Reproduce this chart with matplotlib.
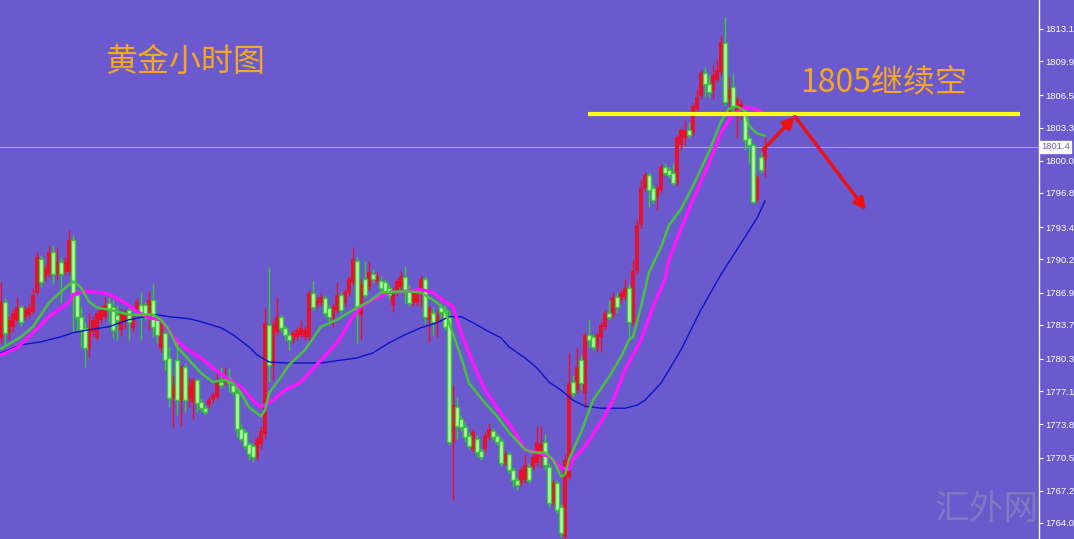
import numpy as np
import matplotlib
matplotlib.use("Agg")
import matplotlib.pyplot as plt

plt.rcParams["font.family"] = ["Noto Sans CJK SC", "DejaVu Sans"]

# hourly gold candles (oldest -> newest)
opens = [
    1782.4, 1786.0, 1782.9, 1783.5, 1784.2, 1785.5, 1784.5, 1784.7, 1785.0, 1786.9,
    1790.2, 1788.4, 1788.7, 1790.9, 1788.7, 1789.9, 1788.9, 1788.9, 1792.1, 1786.7,
    1784.5, 1783.4, 1781.4, 1783.0, 1782.4, 1784.2, 1784.5, 1785.9, 1785.5, 1784.7,
    1783.2, 1784.0, 1785.2, 1783.4, 1785.0, 1785.7, 1785.7, 1784.9, 1786.2, 1784.2,
    1781.4, 1782.9, 1780.4, 1776.4, 1780.2, 1776.2, 1779.5, 1776.4, 1776.0, 1778.2,
    1776.0, 1775.4, 1775.7, 1776.2, 1776.5, 1778.0, 1778.0, 1778.4, 1777.7, 1776.9,
    1773.3, 1773.0, 1771.8, 1771.6, 1770.6, 1771.8, 1772.8, 1783.7, 1779.7, 1783.0,
    1784.5, 1783.4, 1782.7, 1782.2, 1782.5, 1782.7, 1782.5, 1782.5, 1786.9, 1785.7,
    1785.9, 1786.4, 1785.4, 1784.4, 1785.2, 1786.7, 1785.9, 1786.9, 1787.9, 1790.0,
    1784.7, 1788.2, 1787.5, 1788.7, 1788.0, 1788.0, 1787.9, 1787.4, 1785.7, 1786.9,
    1787.5, 1788.4, 1787.2, 1785.9, 1785.9, 1787.2, 1788.2, 1784.2, 1784.9, 1784.0,
    1785.5, 1785.2, 1784.5, 1772.0, 1775.5, 1774.3, 1773.5, 1772.6, 1771.3, 1772.3,
    1771.1, 1771.3, 1772.5, 1773.1, 1772.6, 1772.1, 1770.0, 1770.8, 1769.3, 1768.3,
    1768.0, 1768.3, 1769.6, 1769.6, 1770.0, 1770.6, 1772.0, 1769.6, 1766.0, 1768.0,
    1765.6, 1762.6, 1768.6, 1778.0, 1777.2, 1780.2, 1776.9, 1782.7, 1782.5, 1781.5,
    1782.5, 1783.5, 1784.9, 1784.7, 1786.5, 1786.2, 1786.5, 1787.4, 1784.0, 1789.0,
    1793.6, 1797.3, 1798.6, 1797.3, 1796.4, 1797.1, 1799.4, 1799.1, 1798.8, 1797.8,
    1801.6, 1802.3, 1803.1, 1802.8, 1805.1, 1806.4, 1808.7, 1807.6, 1806.9, 1808.0,
    1808.8, 1811.7, 1806.1, 1807.3, 1804.9, 1804.4, 1804.8, 1802.3, 1801.6, 1796.1,
    1800.4, 1800.1,
]
closes = [
    1786.0, 1782.9, 1784.2, 1784.9, 1785.5, 1784.0, 1785.2, 1785.4, 1786.7, 1790.4,
    1787.9, 1789.2, 1790.9, 1788.7, 1789.9, 1788.7, 1789.9, 1792.1, 1786.7, 1784.5,
    1783.2, 1781.4, 1783.2, 1784.2, 1784.9, 1785.2, 1785.7, 1785.2, 1783.2, 1784.2,
    1784.9, 1784.7, 1784.0, 1784.4, 1786.0, 1784.9, 1784.5, 1786.2, 1783.5, 1782.7,
    1783.9, 1780.2, 1776.4, 1777.7, 1776.2, 1779.5, 1776.2, 1777.7, 1778.2, 1775.9,
    1775.4, 1775.0, 1776.2, 1776.7, 1778.0, 1777.7, 1778.5, 1777.9, 1777.0, 1773.3,
    1772.3, 1771.6, 1770.8, 1770.6, 1772.3, 1773.1, 1783.9, 1779.7, 1783.7, 1784.5,
    1783.4, 1782.7, 1782.2, 1782.9, 1783.2, 1783.4, 1783.2, 1786.9, 1785.5, 1786.2,
    1786.5, 1784.9, 1784.5, 1785.5, 1786.7, 1785.2, 1787.0, 1788.2, 1790.2, 1785.2,
    1787.7, 1786.7, 1788.9, 1788.2, 1788.5, 1787.4, 1786.9, 1786.7, 1786.9, 1788.0,
    1788.5, 1787.2, 1785.9, 1786.9, 1787.0, 1788.2, 1784.5, 1785.4, 1784.0, 1784.7,
    1785.0, 1783.5, 1772.0, 1775.7, 1773.6, 1773.5, 1772.5, 1771.6, 1773.0, 1771.0,
    1770.6, 1772.6, 1773.3, 1772.5, 1772.0, 1770.0, 1770.8, 1769.3, 1768.3, 1767.8,
    1769.3, 1769.8, 1768.3, 1770.6, 1772.0, 1771.8, 1769.8, 1766.0, 1768.0, 1765.3,
    1763.0, 1770.3, 1777.9, 1776.9, 1779.5, 1777.9, 1782.7, 1782.2, 1781.5, 1782.7,
    1783.7, 1784.9, 1784.5, 1786.5, 1785.5, 1786.9, 1787.4, 1784.0, 1789.0, 1793.6,
    1797.3, 1798.6, 1797.1, 1796.1, 1797.3, 1799.4, 1798.8, 1798.6, 1797.8, 1802.4,
    1803.1, 1803.1, 1802.6, 1805.4, 1806.3, 1808.7, 1807.6, 1806.8, 1808.5, 1809.0,
    1811.8, 1805.8, 1807.1, 1805.4, 1806.1, 1805.6, 1802.1, 1801.6, 1795.9, 1798.4,
    1799.1, 1801.4,
]
highs = [
    1787.9, 1786.4, 1784.6, 1785.4, 1786.5, 1785.7, 1785.6, 1785.9, 1787.4, 1790.9,
    1790.6, 1789.7, 1791.5, 1791.6, 1791.4, 1790.4, 1790.4, 1793.1, 1792.6, 1787.2,
    1785.5, 1784.0, 1784.9, 1784.6, 1785.2, 1785.7, 1786.5, 1786.5, 1786.2, 1785.7,
    1785.3, 1785.2, 1785.6, 1784.8, 1786.4, 1787.0, 1786.0, 1787.0, 1787.7, 1784.5,
    1784.2, 1783.2, 1781.5, 1778.7, 1782.4, 1779.7, 1779.9, 1778.5, 1778.5, 1778.4,
    1776.4, 1775.7, 1776.5, 1777.0, 1778.9, 1779.5, 1779.5, 1779.4, 1778.2, 1777.4,
    1773.8, 1773.3, 1772.0, 1771.9, 1772.6, 1773.6, 1785.5, 1789.4, 1784.2, 1786.5,
    1784.8, 1783.7, 1783.0, 1783.2, 1783.5, 1784.2, 1783.6, 1787.2, 1788.0, 1786.6,
    1786.9, 1786.7, 1785.7, 1785.8, 1787.9, 1787.0, 1787.3, 1788.5, 1791.4, 1790.4,
    1788.2, 1790.0, 1790.0, 1789.2, 1788.9, 1788.5, 1788.2, 1787.7, 1787.5, 1788.3,
    1789.0, 1789.5, 1787.6, 1787.2, 1787.4, 1788.6, 1788.5, 1785.7, 1785.5, 1785.2,
    1785.9, 1785.7, 1785.2, 1777.7, 1776.5, 1774.7, 1774.0, 1773.0, 1773.3, 1772.7,
    1771.4, 1773.0, 1773.8, 1773.4, 1772.9, 1772.4, 1771.1, 1771.1, 1769.6, 1768.6,
    1769.7, 1770.8, 1770.0, 1771.0, 1773.6, 1773.6, 1772.8, 1770.0, 1768.3, 1768.3,
    1765.9, 1770.8, 1780.9, 1778.7, 1781.5, 1780.7, 1783.0, 1784.2, 1782.8, 1783.0,
    1784.0, 1785.2, 1786.2, 1787.0, 1787.0, 1787.2, 1788.2, 1787.7, 1790.2, 1794.1,
    1798.1, 1798.9, 1798.9, 1797.6, 1797.6, 1799.7, 1799.8, 1799.4, 1799.8, 1802.6,
    1803.4, 1804.1, 1803.9, 1805.7, 1807.1, 1809.0, 1809.3, 1808.5, 1809.5, 1810.0,
    1812.5, 1814.3, 1808.3, 1808.7, 1806.4, 1806.1, 1805.1, 1802.6, 1801.8, 1798.6,
    1800.9, 1802.4,
]
lows = [
    1781.9, 1781.7, 1782.2, 1783.0, 1783.9, 1783.6, 1784.2, 1784.4, 1784.8, 1786.6,
    1787.5, 1788.0, 1788.4, 1787.7, 1788.2, 1785.9, 1788.6, 1788.6, 1782.9, 1783.2,
    1781.5, 1779.5, 1780.5, 1782.6, 1782.2, 1783.9, 1784.2, 1784.0, 1782.4, 1782.2,
    1782.6, 1783.4, 1782.2, 1783.0, 1784.7, 1782.2, 1784.2, 1783.2, 1782.5, 1781.9,
    1781.0, 1779.2, 1775.5, 1773.5, 1774.7, 1773.6, 1775.0, 1775.5, 1774.3, 1775.0,
    1775.0, 1774.7, 1775.4, 1775.9, 1776.2, 1777.4, 1777.7, 1777.0, 1776.7, 1772.5,
    1772.1, 1771.3, 1770.3, 1770.1, 1770.3, 1771.3, 1772.3, 1778.0, 1778.2, 1782.7,
    1783.0, 1782.2, 1781.2, 1781.9, 1782.2, 1782.4, 1782.2, 1782.2, 1785.2, 1785.4,
    1785.6, 1784.6, 1784.0, 1783.5, 1784.9, 1784.9, 1785.6, 1786.6, 1787.6, 1781.9,
    1782.2, 1786.4, 1787.2, 1787.8, 1787.7, 1787.0, 1786.6, 1786.3, 1785.0, 1786.6,
    1787.2, 1785.9, 1785.6, 1785.6, 1785.6, 1785.5, 1783.9, 1782.0, 1782.7, 1782.5,
    1784.4, 1783.2, 1771.7, 1766.3, 1772.3, 1773.1, 1772.0, 1771.3, 1771.0, 1770.6,
    1770.3, 1771.0, 1772.2, 1772.2, 1771.7, 1769.7, 1769.7, 1769.0, 1767.6, 1767.3,
    1767.7, 1768.0, 1768.0, 1769.3, 1769.7, 1769.5, 1769.3, 1765.6, 1765.7, 1765.0,
    1762.6, 1762.3, 1768.3, 1776.5, 1776.9, 1777.2, 1775.5, 1781.5, 1781.2, 1781.0,
    1781.0, 1783.2, 1784.2, 1784.4, 1784.9, 1785.9, 1786.2, 1782.5, 1783.7, 1788.7,
    1793.3, 1797.0, 1795.4, 1795.8, 1795.1, 1796.8, 1798.6, 1798.3, 1797.6, 1797.5,
    1801.1, 1801.6, 1802.3, 1802.5, 1804.8, 1806.1, 1806.3, 1806.3, 1806.1, 1807.8,
    1808.5, 1805.4, 1804.8, 1804.8, 1802.3, 1804.1, 1801.1, 1799.8, 1795.8, 1795.9,
    1798.8, 1798.4,
]

# moving averages (bar index, price)
fast_ma_idx = [0, 5, 8, 12, 15, 18, 20, 22, 24, 27, 32, 38, 40, 42, 44, 47, 50, 53, 56, 58,
               60, 62, 65, 66, 67, 70, 72, 76, 80, 84, 89, 92, 95, 99, 102, 105, 107, 109, 111, 112,
               115, 117, 121, 124, 127, 131, 133, 136, 138, 140, 141, 142, 145, 148, 152, 155, 157, 158, 160, 162,
               165, 167, 170, 173, 177, 180, 182, 184, 186, 187, 189, 191]
fast_ma = [1781.3, 1782.5, 1783.5, 1785.9, 1787.0, 1788.0, 1787.4, 1786.0, 1785.4, 1785.2,
           1784.7, 1784.7, 1784.2, 1783.2, 1781.5, 1780.2, 1778.9, 1778.0, 1778.2, 1777.9,
           1776.9, 1775.5, 1774.6, 1775.2, 1776.9, 1778.5, 1779.7, 1781.2, 1783.5, 1784.2,
           1785.4, 1786.0, 1786.9, 1787.0, 1787.0, 1786.9, 1786.4, 1785.9, 1785.2, 1783.9,
           1780.5, 1777.9, 1775.9, 1774.6, 1773.0, 1771.3, 1771.0, 1771.0, 1770.3, 1768.6,
           1768.8, 1770.3, 1773.0, 1776.2, 1778.5, 1780.5, 1782.2, 1782.5, 1785.5, 1788.9,
           1791.4, 1793.6, 1795.2, 1797.5, 1800.9, 1803.9, 1805.2, 1805.4, 1804.9, 1803.5,
           1802.7, 1802.5]

mid_ma_idx = [0, 4, 8, 12, 17, 18, 21, 25, 27, 31, 34, 37, 40, 43, 46, 50, 53, 56, 60, 63,
              65, 68, 71, 75, 80, 84, 88, 90, 93, 97, 101, 105, 108, 111, 113, 115, 118, 121, 125, 128,
              131, 134, 137, 140, 142, 143, 146, 150, 153, 156, 160, 163, 166, 167, 172, 177, 180, 183, 186, 188,
              190]
mid_ma = [1780.7, 1781.4, 1782.9, 1784.5, 1785.9, 1786.7, 1787.0, 1786.9, 1786.7, 1785.9,
          1785.0, 1784.4, 1784.2, 1782.5, 1781.4, 1780.4, 1779.4, 1778.5, 1777.5, 1776.2,
          1775.5, 1776.2, 1777.2, 1778.0, 1780.2, 1781.9, 1784.5, 1785.5, 1786.2, 1786.9,
          1787.0, 1787.2, 1786.9, 1786.0, 1785.5, 1782.9, 1779.9, 1777.2, 1774.9, 1773.3,
          1771.3, 1771.0, 1770.6, 1769.5, 1769.3, 1770.3, 1771.6, 1774.0, 1776.2, 1779.2,
          1782.2, 1785.5, 1788.2, 1790.2, 1795.2, 1799.8, 1802.8, 1804.6, 1805.3, 1805.2,
          1804.9]

slow_ma_idx = [0, 5, 10, 15, 18, 22, 27, 32, 36, 39, 42, 47, 50, 55, 58, 62, 64, 67, 71, 80,
               89, 93, 97, 101, 105, 109, 112, 115, 118, 122, 125, 127, 131, 134, 137, 140, 143, 146, 150, 156,
               159, 161, 165, 167, 170, 175, 180, 185, 189, 191]
slow_ma = [1780.9, 1781.7, 1782.0, 1782.5, 1782.9, 1783.2, 1783.5, 1784.2, 1784.5, 1784.7,
           1784.5, 1784.3, 1784.0, 1783.4, 1782.7, 1781.5, 1780.7, 1780.0, 1779.9, 1779.9,
           1780.4, 1780.9, 1781.9, 1782.7, 1783.4, 1783.9, 1784.5, 1784.5, 1783.9, 1783.0,
           1782.4, 1781.5, 1780.4, 1779.4, 1778.0, 1777.2, 1776.2, 1775.6, 1775.4, 1775.4,
           1775.7, 1776.2, 1777.9, 1779.2, 1781.2, 1785.2, 1788.7, 1791.8, 1794.3, 1796.0]

price_ticks = [1813.1, 1809.9, 1806.5, 1803.3, 1800.0, 1796.8, 1793.4, 1790.2,
               1786.9, 1783.7, 1780.3, 1777.1, 1773.8, 1770.5, 1767.2, 1764.0]
last_price = 1801.4
resist_level = 1804.6

title_text = "黄金小时图"
plan_text = "1805继续空"
watermark = "汇外网"

BG = "#6a5acd"
UP = "#e8102a"
DOWN_EDGE = "#33cc33"
DOWN_FACE = "#b8f5a8"
ORANGE = "#f5a623"

o = np.array(opens)
c = np.array(closes)
h = np.array(highs)
l = np.array(lows)
x = np.arange(len(c))
up = c >= o

fig = plt.figure(figsize=(10.74, 5.39), dpi=100)
fig.patch.set_facecolor(BG)
ax = fig.add_axes([0, 0, 1039 / 1074, 1])
ax.set_facecolor(BG)

# wicks
ax.vlines(x[up], l[up], h[up], color=UP, lw=1, zorder=2)
ax.vlines(x[~up], l[~up], h[~up], color=DOWN_EDGE, lw=1, zorder=2)

# bodies
body_lo = np.minimum(o, c)
body_h = np.maximum(np.abs(c - o), 0.15)
ax.bar(x[up], body_h[up], bottom=body_lo[up], width=0.8, color=UP, lw=0, zorder=3)
ax.bar(x[~up], body_h[~up], bottom=body_lo[~up], width=0.8, facecolor=DOWN_FACE,
       edgecolor=DOWN_EDGE, lw=1.0, zorder=3)

# moving averages
ax.plot(slow_ma_idx, slow_ma, color="#0a14c8", lw=1.0, zorder=4)
ax.plot(mid_ma_idx, mid_ma, color="#ff14ff", lw=2.4, zorder=5, solid_capstyle="round")
ax.plot(fast_ma_idx, fast_ma, color="#48c040", lw=1.8, zorder=6, solid_capstyle="round")

# current price line
ax.axhline(last_price, color="#b0a8c8", lw=0.7, zorder=1)

# resistance line and projected path
ax.hlines(resist_level, 146.75, 254.75, color="#ffff1a", lw=3, zorder=7)
arrow_kw = dict(arrowstyle="-|>,head_length=0.7,head_width=0.35", color="#ee1111", lw=2.4,
                shrinkA=0, shrinkB=0)
ax.annotate("", xy=(198.5, resist_level - 0.2), xytext=(190.5, 1801.1),
            arrowprops=arrow_kw, zorder=8)
ax.annotate("", xy=(216.25, 1795.1), xytext=(198.5, resist_level - 0.2),
            arrowprops=arrow_kw, zorder=8)

ax.text(0.178, 0.885, title_text, transform=ax.transAxes, color=ORANGE,
        fontsize=23, ha="center", va="center")
ax.text(0.851, 0.848, plan_text, transform=ax.transAxes, color=ORANGE,
        fontsize=23, ha="center", va="center")
ax.text(0.95, 0.055, watermark, transform=ax.transAxes, color="#8078c0",
        fontsize=25, ha="center", va="center")

ax.set_xlim(-0.25, 259.5)
ax.set_ylim(1762.40, 1815.98)
ax.set_xticks([])
ax.yaxis.tick_right()
ax.set_yticks(price_ticks)
ax.set_yticklabels([f"{v:.1f}" for v in price_ticks], family="Liberation Sans")
ax.tick_params(axis="y", colors="white", labelsize=6.8, length=3, pad=1.5, width=0.8)
for side in ["top", "left", "bottom"]:
    ax.spines[side].set_visible(False)
ax.spines["right"].set_color("white")
ax.spines["right"].set_linewidth(1)

ax.text(1.002, last_price, f"{last_price:.1f}", transform=ax.get_yaxis_transform(),
        color=BG, fontsize=6.8, family="Liberation Sans", ha="left", va="center",
        bbox=dict(boxstyle="square,pad=0.15", fc="white", ec="white"), clip_on=False, zorder=10)

fig.savefig("out.png", dpi=100, facecolor=BG)
